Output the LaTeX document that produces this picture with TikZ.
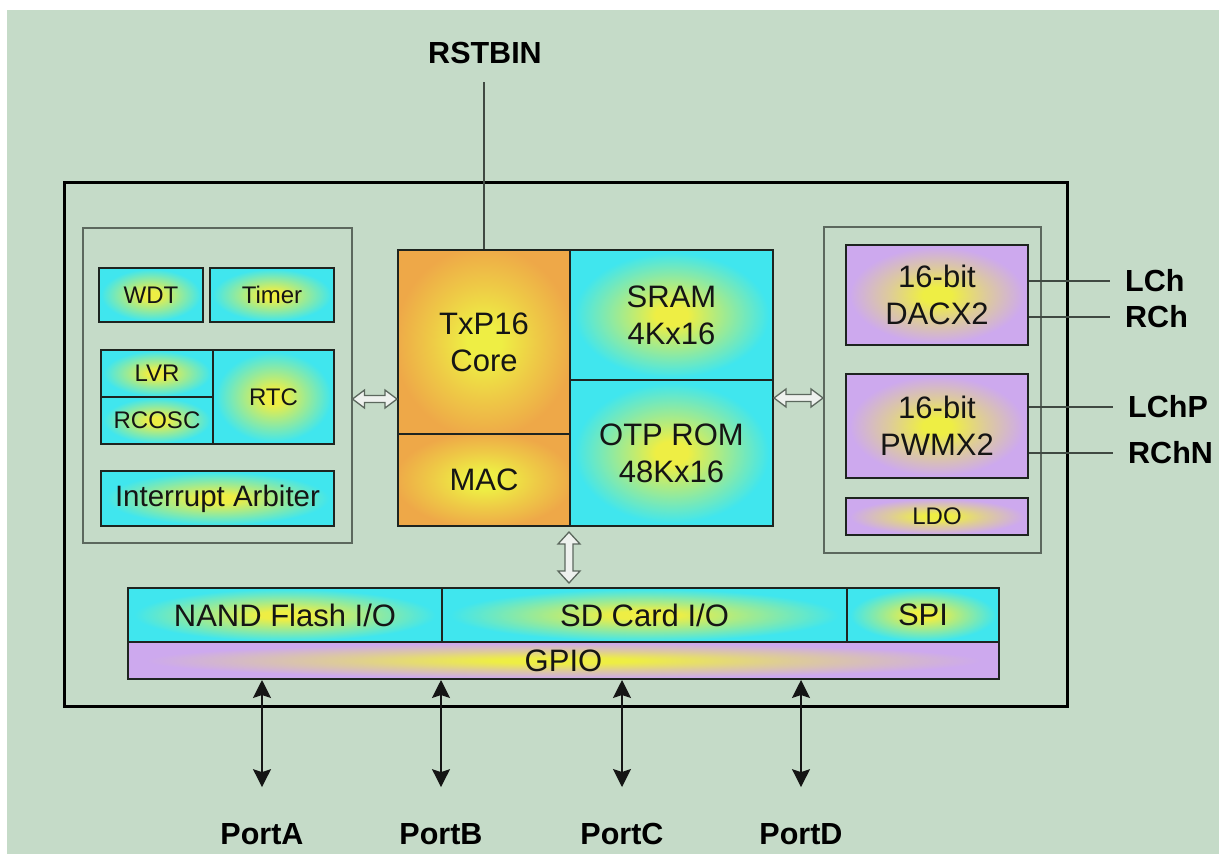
\documentclass[tikz,border=0pt]{standalone}
\usepackage{fontspec}
\setmainfont{Liberation Sans}
\usetikzlibrary{arrows.meta,calc}

\definecolor{bg}{HTML}{C5DBC8}
\definecolor{cyanbox}{HTML}{40E6EE}
\definecolor{orangebox}{HTML}{EEA848}
\definecolor{purplebox}{HTML}{CDA9EE}
\definecolor{glow}{HTML}{EEEE44}
\definecolor{edge}{HTML}{1E2420}
\definecolor{grpline}{HTML}{5C685E}
\definecolor{ink}{HTML}{151515}
\definecolor{busfill}{HTML}{EEF1EE}

% soft yellow centre fading out to the block colour
% (the path's box spans the middle 50bp of the shading)
\pgfdeclareradialshading{cyanglow}{\pgfpointorigin}{%
  color(0bp)=(glow); color(4bp)=(glow); color(13bp)=(glow!55!cyanbox);
  color(24bp)=(cyanbox); color(50bp)=(cyanbox)}
\pgfdeclareradialshading{orangeglow}{\pgfpointorigin}{%
  color(0bp)=(glow); color(5bp)=(glow); color(15bp)=(glow!50!orangebox);
  color(26bp)=(orangebox); color(50bp)=(orangebox)}
\pgfdeclareradialshading{purpleglow}{\pgfpointorigin}{%
  color(0bp)=(glow); color(4bp)=(glow); color(13bp)=(glow!50!purplebox);
  color(24bp)=(purplebox); color(50bp)=(purplebox)}

\tikzset{
  blk/.style={draw=edge, line width=2pt, anchor=north west, inner sep=0pt,
    align=center, text=ink, font=\fontsize{31}{37}\selectfont, shade},
  small/.style={font=\fontsize{24}{29}\selectfont},
  cy/.style={blk, shading=cyanglow},
  og/.style={blk, shading=orangeglow},
  pu/.style={blk, shading=purpleglow},
  grp/.style={draw=grpline, line width=1.5pt, anchor=north west, inner sep=0pt},
  chipbox/.style={draw=black, line width=3pt, anchor=north west, inner sep=0pt},
  wire/.style={draw=grpline!70!black, line width=1.5pt},
  port/.style={draw=ink, line width=1.3pt,
    {Stealth[length=18pt,width=18pt,inset=3pt]}-{Stealth[length=18pt,width=18pt,inset=3pt]}},
  lbl/.style={font=\bfseries\fontsize{30.5}{36}\selectfont, text=black, inner sep=0pt},
  bus/.style={draw=grpline, fill=busfill, line width=1.3pt, line join=miter}
}

% hollow double-headed bus arrows between two points
\newcommand\hbus[2]{%
  \path[bus] let \p1=(#1), \p2=(#2) in
    (\x1,\y1) -- (\x1+12pt,\y1+9pt) -- (\x1+12pt,\y1+3.5pt) -- (\x2-12pt,\y1+3.5pt)
    -- (\x2-12pt,\y1+9pt) -- (\x2,\y1) -- (\x2-12pt,\y1-9pt) -- (\x2-12pt,\y1-3.5pt)
    -- (\x1+12pt,\y1-3.5pt) -- (\x1+12pt,\y1-9pt) -- cycle;}
\newcommand\vbus[2]{%
  \path[bus] let \p1=(#1), \p2=(#2) in
    (\x1,\y1) -- (\x1+11pt,\y1-12pt) -- (\x1+4pt,\y1-12pt) -- (\x1+4pt,\y2+12pt)
    -- (\x1+11pt,\y2+12pt) -- (\x1,\y2) -- (\x1-11pt,\y2+12pt) -- (\x1-4pt,\y2+12pt)
    -- (\x1-4pt,\y1-12pt) -- (\x1-11pt,\y1-12pt) -- cycle;}

\begin{document}
\begin{tikzpicture}[x=1pt,y=-1pt]
\useasboundingbox (0,0) rectangle (1219,854);
\fill[white] (0,0) rectangle (1219,854);
\fill[bg] (7,10) rectangle (1219,854);

% chip outline and sub-system groups
\node[chipbox, minimum width=1003pt, minimum height=524pt] (chip) at (63,181) {};
\node[grp, minimum width=269pt, minimum height=315pt] (grpL) at (82,227) {};
\node[grp, minimum width=217pt, minimum height=326pt] (grpR) at (823,226) {};

% system peripherals
\node[cy, small, minimum width=104pt, minimum height=54pt] (wdt) at (98,267) {WDT};
\node[cy, small, minimum width=124pt, minimum height=54pt] (timer) at (209,267) {Timer};
\node[cy, small, minimum width=112pt, minimum height=47pt] (lvr) at (100,349) {LVR};
\node[cy, small, minimum width=112pt, minimum height=47pt] (rcosc) at (100,396) {RCOSC};
\node[cy, small, minimum width=121pt, minimum height=94pt] (rtc) at (212,349) {RTC};
\node[cy, font=\fontsize{29.5}{35}\selectfont, minimum width=233pt, minimum height=55pt] (intarb) at (100,470) {Interrupt Arbiter};

% processor and memories
\node[og, minimum width=172pt, minimum height=184pt] (core) at (397,249) {TxP16\\Core};
\node[og, minimum width=172pt, minimum height=92pt] (mac) at (397,433) {MAC};
\node[cy, minimum width=203pt, minimum height=130pt] (sram) at (569,249) {SRAM\\4Kx16};
\node[cy, minimum width=203pt, minimum height=146pt] (otp) at (569,379) {OTP ROM\\48Kx16};

% audio outputs
\node[pu, minimum width=182pt, minimum height=100pt] (dac) at (845,244) {16-bit\\DACX2};
\node[pu, minimum width=182pt, minimum height=104pt] (pwm) at (845,373) {16-bit\\PWMX2};
\node[pu, small, minimum width=182pt, minimum height=37pt] (ldo) at (845,497) {LDO};

% I/O interfaces
\node[cy, minimum width=314pt, minimum height=54pt] (nand) at (127,587) {NAND Flash I/O};
\node[cy, minimum width=405pt, minimum height=54pt] (sd) at (441,587) {SD Card I/O};
\node[cy, minimum width=152pt, minimum height=54pt] (spi) at (846,587) {SPI};
\node[pu, minimum width=871pt, minimum height=37pt] (gpio) at (127,641) {GPIO};

% internal buses
\coordinate (lbusy) at (0,399);
\coordinate (rbusy) at (0,398);
\hbus{grpL.east |- lbusy}{core.west |- lbusy}
\hbus{otp.east |- rbusy}{grpR.west |- rbusy}
\vbus{$(otp.south west)+(0,5)$}{$(sd.north -| otp.south west)+(0,-4)$}

% reset input
\node[lbl] (rst) at (485,52.5) {RSTBIN};
\coordinate (rstend) at (484,82);
\draw[wire] (core.north) -- (core.north |- rstend);

% analog outputs
\node[lbl, anchor=west] (lch) at (1125,281) {LCh};
\node[lbl, anchor=west] (rch) at (1125,317) {RCh};
\node[lbl, anchor=west] (lchp) at (1128,407) {LChP};
\node[lbl, anchor=west] (rchn) at (1128,453) {RChN};
\draw[wire] (dac.east |- lch.west) -- ([xshift=-15pt]lch.west);
\draw[wire] (dac.east |- rch.west) -- ([xshift=-15pt]rch.west);
\draw[wire] (pwm.east |- lchp.west) -- ([xshift=-15pt]lchp.west);
\draw[wire] (pwm.east |- rchn.west) -- ([xshift=-15pt]rchn.west);

% GPIO ports
\node[lbl] (pa) at (262,834) {PortA};
\node[lbl] (pb) at (441,834) {PortB};
\node[lbl] (pc) at (622,834) {PortC};
\node[lbl] (pd) at (801,834) {PortD};
\foreach \p in {pa,pb,pc,pd}
  \draw[port, shorten >=36pt] (gpio.south -| \p) -- (\p.north);
\end{tikzpicture}
\end{document}
